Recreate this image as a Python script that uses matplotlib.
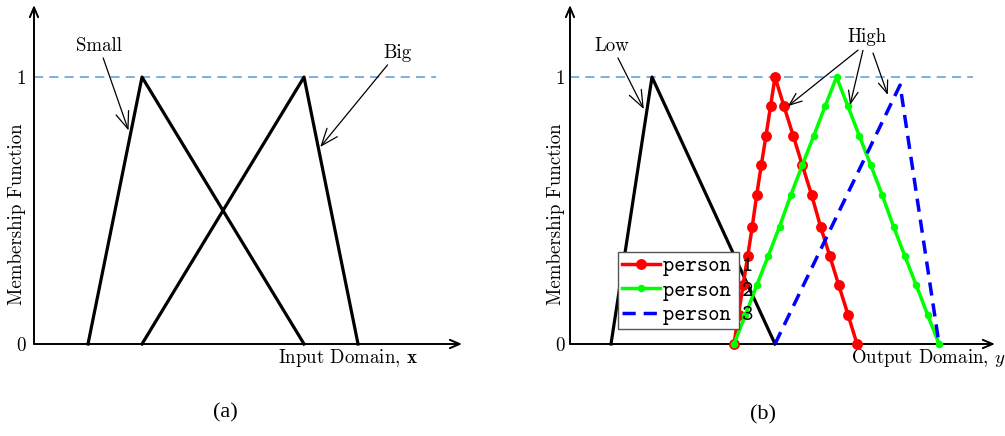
import os
import matplotlib
matplotlib.use("Agg")
import matplotlib.pyplot as plt
from matplotlib import font_manager
from matplotlib.patches import Rectangle

ttf_dir = os.path.join(matplotlib.get_data_path(), 'fonts', 'ttf')
for f in ('cmr10.ttf', 'cmtt10.ttf', 'cmb10.ttf', 'cmmi10.ttf'):
    p = os.path.join(ttf_dir, f)
    if os.path.exists(p):
        font_manager.fontManager.addfont(p)

plt.rcParams['mathtext.fontset'] = 'cm'
plt.rcParams['axes.formatter.use_mathtext'] = True
plt.rcParams['font.family'] = ['cmr10', 'DejaVu Serif']

# ---------------- data ----------------
small_x = [2, 4, 10]
small_y = [0, 1, 0]
big_x = [4, 10, 12]
big_y = [0, 1, 0]

low_x = [2, 4, 10]
low_y = [0, 1, 0]
p1_x = [8.00, 8.22, 8.44, 8.67, 8.89, 9.11, 9.33, 9.56, 9.78, 10.00,
        10.44, 10.89, 11.33, 11.78, 12.22, 12.67, 13.11, 13.56, 14.00]
p1_y = [0.00, 0.11, 0.22, 0.33, 0.44, 0.56, 0.67, 0.78, 0.89, 1.00,
        0.89, 0.78, 0.67, 0.56, 0.44, 0.33, 0.22, 0.11, 0.00]
p2_x = [8.00, 8.56, 9.11, 9.67, 10.22, 10.78, 11.33, 11.89, 12.44, 13.00,
        13.56, 14.11, 14.67, 15.22, 15.78, 16.33, 16.89, 17.44, 18.00]
p2_y = [0.00, 0.11, 0.22, 0.33, 0.44, 0.56, 0.67, 0.78, 0.89, 1.00,
        0.89, 0.78, 0.67, 0.56, 0.44, 0.33, 0.22, 0.11, 0.00]
p3_x = [10, 16.1, 18]
p3_y = [0, 0.97, 0]
legend_labels = ['person 1', 'person 2', 'person 3']
ytick_vals = [0, 1]
ytick_labels = ['0', '1']

W, H = 1005, 436
fig = plt.figure(figsize=(W / 100, H / 100), dpi=100)

axL = fig.add_axes([34 / W, 92 / H, 428 / W, 339 / H])
axR = fig.add_axes([570 / W, 92 / H, 425 / W, 339 / H])

YMAX = 1.27
FS = 13.6
dash_col = '#5b9bd5'


def setup(ax, xmax, dash_end, pad):
    ax.set_xlim(0, xmax)
    ax.set_ylim(0, YMAX)
    for s in ax.spines.values():
        s.set_visible(False)
    ax.set_xticks([])
    ax.set_yticks(ytick_vals)
    ax.set_yticklabels(ytick_labels, fontsize=FS)
    ax.tick_params(axis='y', length=0, pad=pad)
    ax.patch.set_alpha(0)
    arr = dict(arrowstyle='->,head_length=0.7,head_width=0.3', lw=1.4,
               color='black', shrinkA=0, shrinkB=0)
    ax.annotate('', xy=(xmax, 0), xytext=(0, 0), arrowprops=arr,
                annotation_clip=False)
    ax.annotate('', xy=(0, YMAX), xytext=(0, 0), arrowprops=arr,
                annotation_clip=False)
    ax.plot([0, dash_end], [1, 1], color=dash_col, lw=1.1,
            dashes=(6, 4), zorder=1)


setup(axL, 15.85, 14.9, 6)
setup(axR, 20.73, 19.66, 3.5)

# ---------------- left panel ----------------
axL.plot(small_x, small_y, color='black', lw=2.3, clip_on=False, zorder=2)
axL.plot(big_x, big_y, color='black', lw=2.3, clip_on=False, zorder=2)

ann = dict(arrowstyle='->,head_length=0.9,head_width=0.35', lw=0.9,
           color='black', shrinkA=0, shrinkB=0)
axL.annotate('Small', xy=(3.50, 0.80), xytext=(2.41, 1.082), fontsize=FS,
             ha='center', va='bottom', arrowprops=ann)
axL.annotate('Big', xy=(10.6, 0.738), xytext=(12.93, 1.056), fontsize=FS,
             arrowprops=ann, ha='left', va='bottom')

axL.set_ylabel('Membership Function', fontsize=FS, va='center')
axL.yaxis.set_label_coords(-0.040, 0.383)
axL.set_xlabel(r'Input Domain, $\mathbf{x}$', fontsize=FS)
axL.xaxis.label.set_va('center')
axL.xaxis.set_label_coords(0.7325, -0.040)

# ---------------- right panel ----------------
axR.plot(low_x, low_y, color='black', lw=2.3, clip_on=False, zorder=2)
l1, = axR.plot(p1_x, p1_y, color='#ff0000', lw=2.5, marker='o',
               markersize=6.8, clip_on=False, zorder=3)
l2, = axR.plot(p2_x, p2_y, color='#00ff00', lw=2.5, marker='o',
               markersize=4.4, clip_on=False, zorder=3)
l3, = axR.plot(p3_x, p3_y, color='#0000ff', lw=2.5, dashes=(3.8, 2.3),
               clip_on=False, zorder=3)

axR.annotate('Low', xy=(3.6, 0.88), xytext=(2.05, 1.082), fontsize=FS,
             ha='center', va='bottom', arrowprops=ann)
axR.text(14.47, 1.151, 'High', fontsize=FS, ha='center', va='center')
for (tx, ty), (hx, hy) in [((14.05, 1.101), (10.63, 0.891)),
                           ((14.29, 1.100), (13.66, 0.895)),
                           ((14.78, 1.090), (15.50, 0.933))]:
    axR.annotate('', xy=(hx, hy), xytext=(tx, ty), arrowprops=ann)

axR.set_ylabel('Membership Function', fontsize=FS, va='center')
axR.yaxis.set_label_coords(-0.033, 0.383)
axR.set_xlabel(r'Output Domain, $y$', fontsize=FS)
axR.xaxis.label.set_va('center')
axR.xaxis.set_label_coords(0.842, -0.040)

# legend box (narrower than its text, as in the reference)
box = Rectangle((618 / W, 1 - 329 / H), 121 / W, 77 / H,
                transform=fig.transFigure, facecolor='white',
                edgecolor='#555555', lw=1.0, zorder=4, clip_on=False)
axR.add_patch(box)
leg = axR.legend([l1, l2, l3], legend_labels, frameon=False,
                 loc='upper left', bbox_to_anchor=(618 / W, 1 - 252 / H),
                 bbox_transform=fig.transFigure, borderaxespad=0,
                 borderpad=0.2, handlelength=1.75, handletextpad=0.15,
                 labelspacing=0.2,
                 prop={'family': 'cmtt10', 'size': 15.5})
leg.set_zorder(5)

fig.text(225 / W, 1 - 413 / H, '(a)', fontsize=16,
         family='Liberation Serif', ha='center', va='center')
fig.text(763 / W, 1 - 415 / H, '(b)', fontsize=16,
         family='Liberation Serif', ha='center', va='center')

fig.savefig('out.png', dpi=100)
